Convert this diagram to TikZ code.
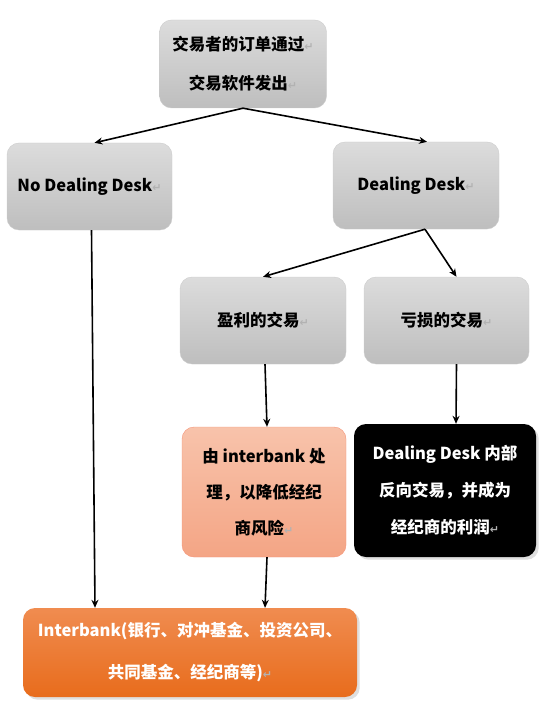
\documentclass[tikz,border=0pt]{standalone}
\usepackage{fontspec}
\setmainfont{Noto Sans CJK SC}
\newfontfamily\symfont{DejaVu Sans}
\usetikzlibrary{arrows.meta,shadows}
\definecolor{grayTop}{HTML}{DCDCDC}
\definecolor{grayBot}{HTML}{BEBEBE}
\definecolor{salTop}{HTML}{F8C3AB}
\definecolor{salBot}{HTML}{F4A585}
\definecolor{orgTop}{HTML}{F08C50}
\definecolor{orgBot}{HTML}{E86C1C}
\newcommand{\retmark}{{\symfont\color{gray!60}\fontsize{11}{11}\selectfont ↵}}
\tikzset{
  box/.style={rectangle, rounded corners=12pt, align=center, inner sep=2pt,
    font=\bfseries\fontsize{16.5}{39}\selectfont},
  graybox/.style={box, draw=gray!40, line width=0.4pt, top color=grayTop, bottom color=grayBot},
  conn/.style={-{Stealth[length=8pt,width=7pt]}, line width=1.6pt}
}
\begin{document}
\begin{tikzpicture}[x=1pt, y=-1pt, line join=round]
\useasboundingbox (0,0) rectangle (554,714);
\node[graybox, minimum width=167pt, minimum height=88pt] (order) at (243,64) {交易者的订单通过\retmark\\交易软件发出\retmark};
\node[graybox, minimum width=165pt, minimum height=87pt] (ndd) at (89.5,186.5) {No Dealing Desk\retmark};
\node[graybox, minimum width=166pt, minimum height=87pt] (dd) at (416,185.5) {Dealing Desk\retmark};
\node[graybox, minimum width=166pt, minimum height=87pt] (win) at (263,320.5) {盈利的交易\retmark};
\node[graybox, minimum width=165pt, minimum height=87pt] (loss) at (446.5,320.5) {亏损的交易\retmark};
\node[box, draw=salBot!90!red, line width=0.4pt, top color=salTop, bottom color=salBot,
  minimum width=164pt, minimum height=130pt, font=\bfseries\fontsize{16.5}{36}\selectfont] (handle) at (264,492)
  {由 interbank 处\\理，以降低经纪\\商风险\retmark};
\node[box, fill=black, text=white, drop shadow={opacity=0.25},
  minimum width=182pt, minimum height=133pt, font=\bfseries\fontsize{16.5}{37}\selectfont] (profit) at (445,490.5)
  {Dealing Desk 内部\\反向交易，并成为\\经纪商的利润\retmark};
\node[box, top color=orgTop, bottom color=orgBot, text=white, drop shadow={opacity=0.25},
  minimum width=334pt, minimum height=89pt, font=\bfseries\fontsize{16.5}{42}\selectfont] (bank) at (190,652.5)
  {Interbank(银行、对冲基金、投资公司、\\共同基金、经纪商等)\retmark};
% connectors
\draw[conn] (order.south) -- ([xshift=5pt]ndd.north);
\draw[conn] (order.south) -- ([xshift=11pt]dd.north);
\draw[conn] ([xshift=9pt]dd.south) -- (win.north);
\draw[conn] ([xshift=9pt]dd.south) -- ([xshift=10pt]loss.north);
\draw[conn] ([xshift=2pt]ndd.south) -- ([xshift=-95pt]bank.north);
\draw[conn] ([xshift=2pt]win.south) -- ([xshift=3pt]handle.north);
\draw[conn] ([xshift=10pt]loss.south) -- ([xshift=11pt]profit.north);
\draw[conn] ([xshift=3pt]handle.south) -- ([xshift=75pt]bank.north);
\end{tikzpicture}
\end{document}
